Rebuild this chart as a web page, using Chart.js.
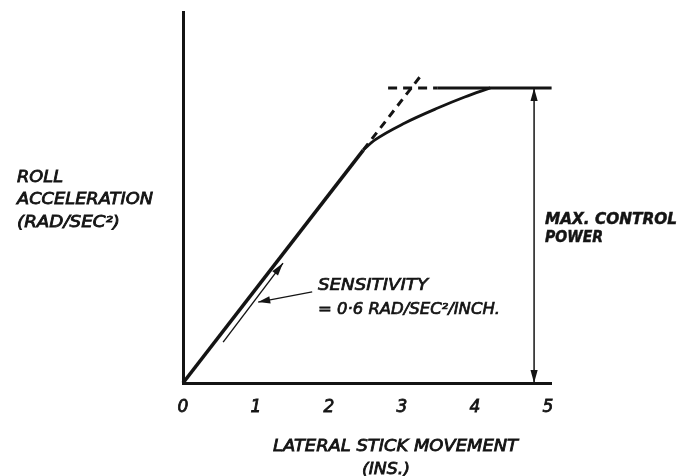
<!DOCTYPE html>
<html>
<head>
<meta charset="utf-8">
<script src="https://cdn.jsdelivr.net/npm/chart.js@4"></script>
<style>
  html, body { margin: 0; padding: 0; background: #ffffff; }
  #wrap { width: 692px; height: 476px; }
</style>
</head>
<body>
<div id="wrap"><canvas id="c" width="692" height="476"></canvas></div>
<script>
// Lateral stick movement (in.) against roll acceleration (rad/sec^2)
const tickLabels = [0, 1, 2, 3, 4, 5];
const sensitivity = 0.6;          // rad/sec^2 per inch
const maxPower = 1.877;           // max control power, rad/sec^2
const kneeX = 2.47;               // stick travel where the response starts to fall off

const linearX = [0, kneeX];
const curveX = [2.47, 2.63, 3.04, 3.49, 3.86, 4.21];
const curveY = [1.482, 1.546, 1.654, 1.749, 1.819, 1.877];
const limitX = [3.49, 5.05];      // solid max-power line
const limitDashX = [2.81, 3.49];  // dashed continuation of the max-power line
const extendX = [kneeX, 3.29];    // dashed continuation of the linear slope
const powerArrowX = 4.81;
const sensArrow = [[0.55, 0.26], [1.37, 0.763]];
const sensLeader = [[1.77, 0.579], [1.03, 0.515]];

const INK = '#141414';
const pts = (xs, ys) => xs.map((x, i) => ({ x, y: ys[i] }));
const lineY = xs => xs.map(x => sensitivity * x);

const datasets = [
  { data: pts(linearX, lineY(linearX)), borderWidth: 3.6 },
  { data: pts(curveX, curveY), borderWidth: 2.8, tension: 0.4, cubicInterpolationMode: 'monotone' },
  { data: pts(limitX, [maxPower, maxPower]), borderWidth: 3 },
  { data: pts(limitDashX, [maxPower, maxPower]), borderWidth: 3, borderDash: [9, 6] },
  { data: pts(extendX, lineY(extendX)), borderWidth: 3, borderDash: [8, 6] },
  { data: pts([powerArrowX, powerArrowX], [0, maxPower]), borderWidth: 1.5 },
  { data: sensArrow.map(p => ({ x: p[0], y: p[1] })), borderWidth: 1.4 },
  { data: sensLeader.map(p => ({ x: p[0], y: p[1] })), borderWidth: 1.3 }
].map(d => Object.assign({
  showLine: true, borderColor: INK, pointRadius: 0, fill: false, clip: false
}, d));

function arrowHead(ctx, tip, from, len, half) {
  const a = Math.atan2(tip.y - from.y, tip.x - from.x);
  ctx.save();
  ctx.translate(tip.x, tip.y);
  ctx.rotate(a);
  ctx.beginPath();
  ctx.moveTo(0, 0);
  ctx.lineTo(-len, -half);
  ctx.lineTo(-len, half);
  ctx.closePath();
  ctx.fillStyle = INK;
  ctx.fill();
  ctx.restore();
}

// lettering squeezed or stretched to a set width, with a light outline for weight
function fitText(ctx, str, left, cy, width, font, stroke) {
  ctx.save();
  ctx.font = font;
  ctx.fillStyle = INK;
  ctx.strokeStyle = INK;
  ctx.textBaseline = 'middle';
  ctx.textAlign = 'left';
  const w = ctx.measureText(str).width;
  ctx.translate(left, cy);
  ctx.scale(width / w, 1);
  ctx.fillText(str, 0, 0);
  if (stroke) { ctx.lineWidth = stroke; ctx.strokeText(str, 0, 0); }
  ctx.restore();
}

const annotations = {
  id: 'annotations',
  afterDatasetsDraw(chart) {
    const { ctx, scales: { x, y } } = chart;
    const px = (dx, dy) => ({ x: x.getPixelForValue(dx), y: y.getPixelForValue(dy) });

    // double-headed arrow marking max control power
    arrowHead(ctx, px(powerArrowX, maxPower), px(powerArrowX, 0), 13, 3.6);
    arrowHead(ctx, px(powerArrowX, 0), px(powerArrowX, maxPower), 13, 3.6);
    // arrow along the linear slope and leader from the label
    arrowHead(ctx, px(...sensArrow[1]), px(...sensArrow[0]), 13, 3.6);
    arrowHead(ctx, px(...sensLeader[1]), px(...sensLeader[0]), 12, 3.6);

    const f = 'italic 16px "DejaVu Sans"';
    const fb = 'italic bold 16px "DejaVu Sans"';
    fitText(ctx, 'ROLL', 17, 178, 46, f, 0.8);
    fitText(ctx, 'ACCELERATION', 17, 200, 136, f, 0.8);
    fitText(ctx, '(RAD/SEC²)', 17, 223, 103, f, 0.8);
    fitText(ctx, 'LATERAL STICK MOVEMENT', 273, 447, 245, f, 0.8);
    fitText(ctx, '(INS.)', 362, 470, 48, f, 0.8);
    fitText(ctx, 'MAX. CONTROL', 545, 220, 132, fb, 0.5);
    fitText(ctx, 'POWER', 545, 238, 58, fb, 0.5);
    fitText(ctx, 'SENSITIVITY', 318, 286, 110, f, 0.7);
    fitText(ctx, '= 0·6 RAD/SEC²/INCH.', 318, 310, 182, f, 0.7);
  }
};

new Chart(document.getElementById('c'), {
  type: 'scatter',
  data: { datasets },
  options: {
    responsive: false,
    animation: false,
    events: [],
    layout: { padding: { left: 0, right: 140.4, top: 12, bottom: 0 } },
    plugins: { legend: { display: false }, tooltip: { enabled: false } },
    scales: {
      x: {
        type: 'linear', min: 0, max: 5.05,
        grid: { display: false, drawTicks: false },
        border: { display: true, color: INK, width: 3 },
        afterBuildTicks: s => { s.ticks = tickLabels.map(v => ({ value: v })); },
        afterFit: s => { s.height = 93; },
        ticks: {
          padding: 14, color: INK,
          textStrokeColor: INK, textStrokeWidth: 0.8,
          font: { family: '"DejaVu Sans"', size: 17, style: 'italic' },
          callback: v => String(v)
        }
      },
      y: {
        type: 'linear', min: 0, max: 2.36,
        grid: { display: false, drawTicks: false },
        border: { display: true, color: INK, width: 3 },
        ticks: { display: false },
        afterFit: s => { s.width = 183; }
      }
    }
  },
  plugins: [annotations]
});
</script>
</body>
</html>
